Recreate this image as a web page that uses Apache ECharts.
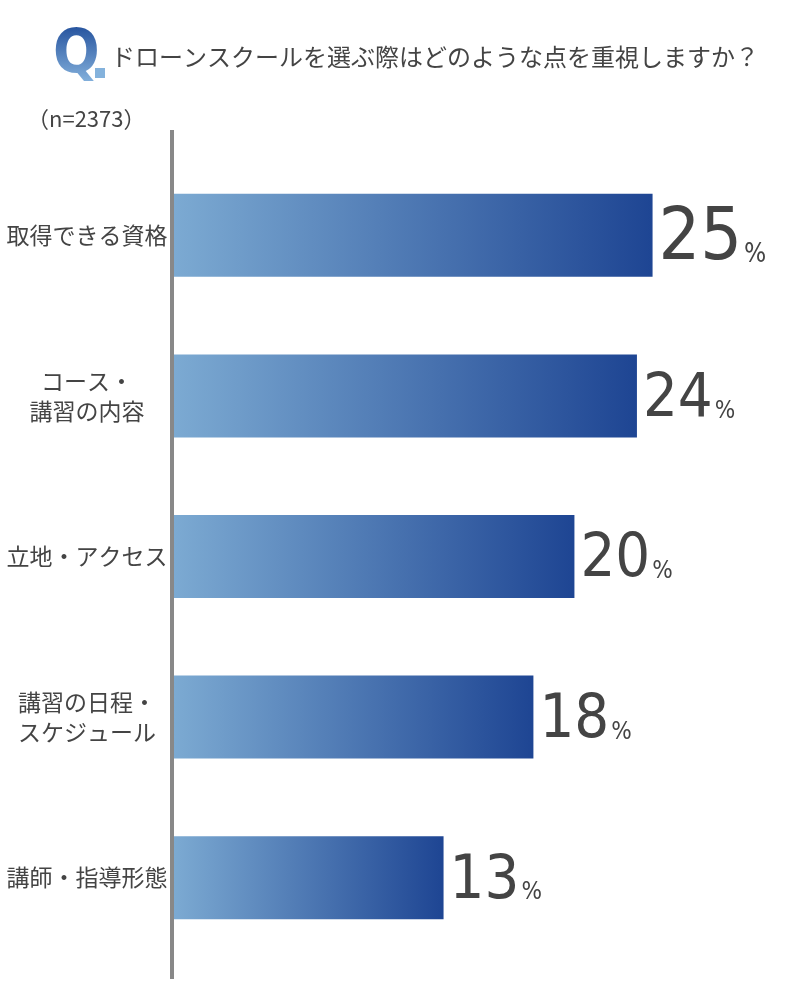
<!DOCTYPE html>
<html>
<head>
<meta charset="utf-8">
<script src="https://cdn.jsdelivr.net/npm/echarts@6/dist/echarts.min.js"></script>
<style>
  html, body { margin: 0; padding: 0; background: #fff; }
  #chart { width: 800px; height: 1000px; }
</style>
</head>
<body>
<div id="chart"></div>
<script>
// 選択肢（上から順）
let categories = ['取得できる資格', 'コース・\n講習の内容', '立地・アクセス', '講習の日程・\nスケジュール', '講師・指導形態'];
// バーの長さ（%）
let values = [24.5, 23.7, 20.5, 18.4, 13.8];
// 表示ラベル（%）
let pctLabels = ['25', '24', '20', '18', '13'];

let title = 'ドローンスクールを選ぶ際はどのような点を重視しますか？';
let sampleText = '（n=2373）';

let jp = '"Noto Sans CJK JP", "Noto Sans", sans-serif';
let numFont = '"DejaVu Sans Condensed", "Roboto", sans-serif';

let chart = echarts.init(document.getElementById('chart'));

let barData = values.map(function (v, i) {
    let big = i === 0;
    return {
        value: v,
        label: {
            offset: [0, big ? 5 : 4],
            formatter: '{' + (big ? 'big' : 'num') + '|' + pctLabels[i] + '}{' + (big ? 'pctBig' : 'pct') + '|%}'
        }
    };
});

chart.setOption({
    backgroundColor: '#fff',
    animation: false,
    grid: {
        left: 174,
        right: 40,
        top: 155,
        bottom: 42
    },
    xAxis: {
        type: 'value',
        min: 0,
        max: 30,
        show: false
    },
    yAxis: {
        type: 'category',
        inverse: true,
        data: categories,
        axisLine: { show: false },
        axisTick: { show: false },
        axisLabel: {
            margin: 87,
            align: 'center',
            color: '#444',
            fontFamily: jp,
            fontSize: 23,
            lineHeight: 30
        }
    },
    series: [{
        type: 'bar',
        data: barData,
        barWidth: 83,
        itemStyle: {
            color: new echarts.graphic.LinearGradient(0, 0, 1, 0, [
                { offset: 0, color: '#7caad2' },
                { offset: 1, color: '#1e4593' }
            ])
        },
        label: {
            show: true,
            position: 'right',
            distance: 6,
            rich: {
                big: {
                    fontFamily: numFont,
                    fontSize: 73,
                    color: '#444',
                    verticalAlign: 'bottom'
                },
                num: {
                    fontFamily: numFont,
                    fontSize: 61,
                    color: '#444',
                    verticalAlign: 'bottom'
                },
                pctBig: {
                    fontFamily: numFont,
                    fontSize: 26,
                    color: '#444',
                    verticalAlign: 'bottom',
                    padding: [0, 0, 9, 2]
                },
                pct: {
                    fontFamily: numFont,
                    fontSize: 24,
                    color: '#444',
                    verticalAlign: 'bottom',
                    padding: [0, 0, 7, 2]
                }
            }
        }
    }],
    graphic: [
        {
            // 縦の軸線
            type: 'line',
            shape: { x1: 172, y1: 130, x2: 172, y2: 979 },
            style: { stroke: '#888', lineWidth: 4 }
        },
        {
            type: 'text',
            left: 53,
            top: 26,
            z: 5,
            style: {
                text: 'Q',
                font: 'bold 61px ' + numFont,
                fill: '#000'
            }
        },
        {
            // Qにグラデーションをのせる（screen合成）
            type: 'rect',
            z: 10,
            shape: { x: 48, y: 24, width: 61, height: 62 },
            style: {
                fill: new echarts.graphic.LinearGradient(0, 0, 0, 1, [
                    { offset: 0, color: '#23509c' },
                    { offset: 1, color: '#8ab7e0' }
                ]),
                blend: 'screen'
            }
        },
        {
            type: 'rect',
            z: 11,
            shape: { x: 95, y: 68, width: 10, height: 10 },
            style: { fill: '#84b2dc' }
        },
        {
            type: 'text',
            left: 111,
            top: 45,
            style: {
                text: title,
                font: '24px ' + jp,
                fill: '#444'
            }
        },
        {
            type: 'text',
            left: 27,
            top: 108,
            style: {
                text: sampleText,
                font: '22px ' + jp,
                fill: '#444'
            }
        }
    ]
});
</script>
</body>
</html>
